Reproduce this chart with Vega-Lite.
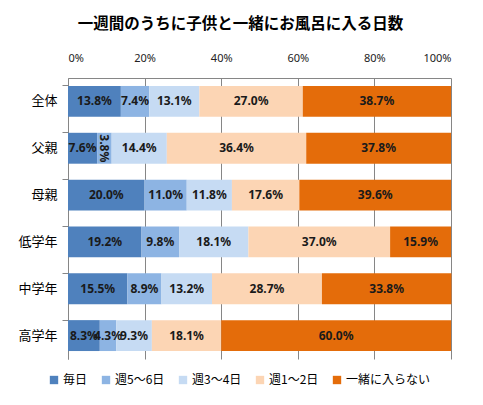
{
  "$schema": "https://vega.github.io/schema/vega-lite/v6.json",
  "width": 383,
  "height": 281,
  "autosize": {"type": "none"},
  "padding": {"left": 68, "top": 78, "right": 32, "bottom": 46},
  "background": "white",
  "title": {
    "text": "一週間のうちに子供と一緒にお風呂に入る日数",
    "font": "Noto Sans CJK JP",
    "fontSize": 15.5,
    "fontWeight": "bold",
    "color": "#000000",
    "anchor": "middle",
    "dx": -19,
    "offset": 20
  },
  "data": {
    "values": [
      {"g": "全体", "c": "毎日", "v": 0.138},
      {"g": "全体", "c": "週5～6日", "v": 0.074},
      {"g": "全体", "c": "週3～4日", "v": 0.131},
      {"g": "全体", "c": "週1～2日", "v": 0.270},
      {"g": "全体", "c": "一緒に入らない", "v": 0.387},
      {"g": "父親", "c": "毎日", "v": 0.076},
      {"g": "父親", "c": "週5～6日", "v": 0.038},
      {"g": "父親", "c": "週3～4日", "v": 0.144},
      {"g": "父親", "c": "週1～2日", "v": 0.364},
      {"g": "父親", "c": "一緒に入らない", "v": 0.378},
      {"g": "母親", "c": "毎日", "v": 0.200},
      {"g": "母親", "c": "週5～6日", "v": 0.110},
      {"g": "母親", "c": "週3～4日", "v": 0.118},
      {"g": "母親", "c": "週1～2日", "v": 0.176},
      {"g": "母親", "c": "一緒に入らない", "v": 0.396},
      {"g": "低学年", "c": "毎日", "v": 0.192},
      {"g": "低学年", "c": "週5～6日", "v": 0.098},
      {"g": "低学年", "c": "週3～4日", "v": 0.181},
      {"g": "低学年", "c": "週1～2日", "v": 0.370},
      {"g": "低学年", "c": "一緒に入らない", "v": 0.159},
      {"g": "中学年", "c": "毎日", "v": 0.155},
      {"g": "中学年", "c": "週5～6日", "v": 0.089},
      {"g": "中学年", "c": "週3～4日", "v": 0.132},
      {"g": "中学年", "c": "週1～2日", "v": 0.287},
      {"g": "中学年", "c": "一緒に入らない", "v": 0.338},
      {"g": "高学年", "c": "毎日", "v": 0.083},
      {"g": "高学年", "c": "週5～6日", "v": 0.043},
      {"g": "高学年", "c": "週3～4日", "v": 0.093},
      {"g": "高学年", "c": "週1～2日", "v": 0.181},
      {"g": "高学年", "c": "一緒に入らない", "v": 0.600}
    ]
  },
  "transform": [
    {"calculate": "indexof(['毎日','週5～6日','週3～4日','週1～2日','一緒に入らない'], datum.c)", "as": "o"},
    {"stack": "v", "groupby": ["g"], "sort": [{"field": "o", "order": "ascending"}], "as": ["x0", "x1"]},
    {"calculate": "(datum.x0 + datum.x1) / 2", "as": "mid"}
  ],
  "encoding": {
    "y": {
      "field": "g",
      "type": "nominal",
      "sort": ["全体", "父親", "母親", "低学年", "中学年", "高学年"],
      "scale": {"paddingInner": 0.34, "paddingOuter": 0.17},
      "axis": {
        "title": null,
        "bandPosition": 0,
        "tickSize": 6,
        "tickColor": "#868686",
        "domainColor": "#868686",
        "labelFont": "Noto Sans CJK JP",
        "labelFontSize": 13,
        "labelColor": "#000000",
        "labelPadding": 5
      }
    }
  },
  "layer": [
    {
      "mark": {"type": "bar"},
      "encoding": {
        "x": {
          "field": "x0",
          "type": "quantitative",
          "scale": {"domain": [0, 1], "nice": false},
          "axis": {
            "orient": "top",
            "title": null,
            "format": "%",
            "values": [0, 0.2, 0.4, 0.6, 0.8, 1],
            "grid": true,
            "gridColor": "#868686",
            "domainColor": "#868686",
            "tickSize": 0,
            "labelPadding": 15,
            "labelFont": "Noto Sans",
            "labelFontSize": 11,
            "labelColor": "#222222"
          }
        },
        "x2": {"field": "x1"},
        "color": {
          "field": "c",
          "type": "nominal",
          "scale": {
            "domain": ["毎日", "週5～6日", "週3～4日", "週1～2日", "一緒に入らない"],
            "range": ["#4F81BD", "#8DB4E3", "#C6DBF3", "#FCD5B4", "#E46C0A"]
          },
          "legend": {
            "title": null,
            "orient": "none",
            "legendX": -20,
            "legendY": 296,
            "direction": "horizontal",
            "columns": 5,
            "gridAlign": "none",
            "columnPadding": 12,
            "symbolType": "square",
            "symbolSize": 70,
            "symbolStrokeWidth": 0,
            "labelFont": "Noto Sans CJK JP",
            "labelFontSize": 12,
            "labelColor": "#000000",
            "labelOffset": 3
          }
        }
      }
    },
    {
      "transform": [{"filter": "!(datum.g == '父親' && datum.c == '週5～6日')"}],
      "mark": {"type": "text", "font": "Noto Sans", "fontSize": 12, "fontWeight": "bold", "color": "#1a1a1a"},
      "encoding": {
        "x": {"field": "mid", "type": "quantitative"},
        "text": {"field": "v", "type": "quantitative", "format": ".1%"}
      }
    },
    {
      "transform": [{"filter": "datum.g == '父親' && datum.c == '週5～6日'"}],
      "mark": {"type": "text", "font": "Noto Sans", "fontSize": 12, "fontWeight": "bold", "color": "#1a1a1a", "angle": 90},
      "encoding": {
        "x": {"field": "mid", "type": "quantitative"},
        "text": {"field": "v", "type": "quantitative", "format": ".1%"}
      }
    }
  ],
  "config": {
    "view": {"stroke": null}
  }
}
